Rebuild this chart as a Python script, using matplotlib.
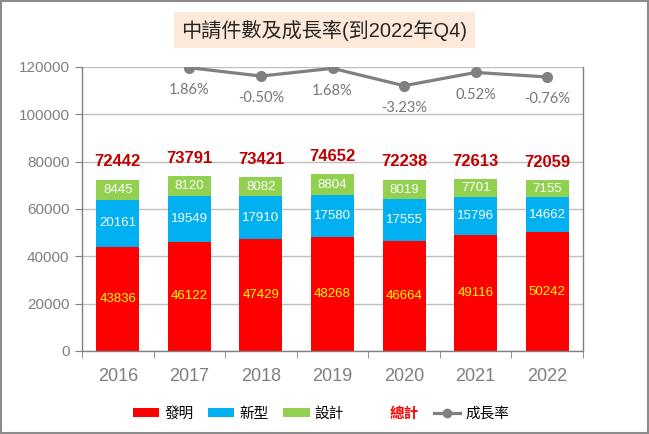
import matplotlib
matplotlib.use("Agg")
import matplotlib.pyplot as plt
from matplotlib.patches import Patch, Rectangle
from matplotlib.lines import Line2D
import numpy as np

years = ['2016', '2017', '2018', '2019', '2020', '2021', '2022']
invention = [43836, 46122, 47429, 48268, 46664, 49116, 50242]
utility = [20161, 19549, 17910, 17580, 17555, 15796, 14662]
design = [8445, 8120, 8082, 8804, 8019, 7701, 7155]
totals = [72442, 73791, 73421, 74652, 72238, 72613, 72059]
growth_years = ['2017', '2018', '2019', '2020', '2021', '2022']
growth = [1.86, -0.50, 1.68, -3.23, 0.52, -0.76]
yticks = [0, 20000, 40000, 60000, 80000, 100000, 120000]

LAT = ['Liberation Sans', 'Noto Sans CJK TC', 'DejaVu Sans']
CJK = ['Noto Sans CJK TC', 'DejaVu Sans']

RED = '#FF0000'
BLUE = '#00B0F0'
GREEN = '#92D050'
GRAY = '#808080'

fig = plt.figure(figsize=(6.49, 4.34), dpi=100)
ax = fig.add_axes([82/649, 1-351/434, (583-82)/649, (351-67)/434])

x = np.arange(len(years))
w = 0.6
b1 = ax.bar(x, invention, w, color=RED, zorder=2)
b2 = ax.bar(x, utility, w, bottom=invention, color=BLUE, zorder=2)
bottom3 = [a + b for a, b in zip(invention, utility)]
b3 = ax.bar(x, design, w, bottom=bottom3, color=GREEN, zorder=2)

for i in range(len(years)):
    ax.text(x[i], invention[i]/2, str(invention[i]), ha='center', va='center',
            color='#FFFF00', fontsize=9.5, family=LAT, zorder=3)
    ax.text(x[i], invention[i] + utility[i]/2, str(utility[i]), ha='center', va='center',
            color='white', fontsize=9.5, family=LAT, zorder=3)
    ax.text(x[i], bottom3[i] + design[i]/2, str(design[i]), ha='center', va='center',
            color='white', fontsize=9.5, family=LAT, zorder=3)
    ax.annotate(str(totals[i]), (x[i], totals[i]), xytext=(0, 13), textcoords='offset points',
                ha='center', va='center', color='#C00000', fontsize=12, fontweight='bold',
                family=LAT, zorder=3)

ax.set_xlim(-0.5, len(years)-0.5)
ax.set_ylim(0, 120000)
ax.set_yticks(yticks)
ax.set_yticklabels([str(v) for v in yticks], family=LAT, fontsize=11, color='#7F7F7F')
ax.set_xticks(x)
ax.set_xticklabels(years, family=LAT, fontsize=13, color='#7F7F7F')
ax.set_xticks(np.arange(-0.5, len(years)), minor=True)
ax.tick_params(axis='x', which='major', length=0, pad=12)
ax.tick_params(axis='x', which='minor', length=5, color=GRAY, direction='out')
ax.tick_params(axis='y', length=5, color=GRAY, direction='out', pad=4)
ax.yaxis.grid(True, color='#BFBFBF', linewidth=1.0, zorder=0)
ax.set_axisbelow(True)
for s in ['left', 'bottom', 'right']:
    ax.spines[s].set_color(GRAY)
    ax.spines[s].set_linewidth(1.0)
ax.spines['top'].set_visible(False)

ax2 = ax.twinx()
ax2.set_ylim(-78.2, 2.06)
gx = [years.index(y) for y in growth_years]
ax2.plot(gx, growth, color=GRAY, linewidth=2.3, marker='o', markersize=7, zorder=4)
for xi, g in zip(gx, growth):
    ax2.annotate(f"{g:.2f}%", (xi, g), xytext=(0, -16), textcoords='offset points',
                 ha='center', va='center', color='#767676', fontsize=10.5,
                 family=['Lato', 'DejaVu Sans'])
ax2.set_yticks([])
for s in ax2.spines.values():
    s.set_visible(False)
ax2.set_xlim(-0.5, len(years)-0.5)

# title
fig.text(324.5/649, 1-30/434, '中請件數及成長率(到2022年Q4)', ha='center', va='center',
         fontsize=14.5, family=LAT, color='#262626',
         bbox=dict(boxstyle='square,pad=0.35', facecolor='#FDE9D9', edgecolor='none'))

# legend
handles = [Patch(facecolor=RED), Patch(facecolor=BLUE), Patch(facecolor=GREEN),
           Patch(facecolor='none', edgecolor='none'),
           Line2D([0], [0], color=GRAY, linewidth=2.3, marker='o', markersize=6)]
labels = ['發明', '新型', '設計', '總計', '成長率']
leg = fig.legend(handles, labels, loc='center', bbox_to_anchor=(321/649, 1-413/434),
                 ncol=5, frameon=False, prop={'family': CJK, 'size': 10.5},
                 handlelength=1.8, handleheight=0.6, handletextpad=0.35, columnspacing=1.0)
t = leg.get_texts()[3]
t.set_color('#FF0000')
t.set_fontweight('bold')

fig.patches.append(Rectangle((0.001, 0.002), 0.997, 0.996, transform=fig.transFigure,
                             fill=False, edgecolor='#8C8C8C', linewidth=1.5))

fig.savefig('out.png', dpi=100)
